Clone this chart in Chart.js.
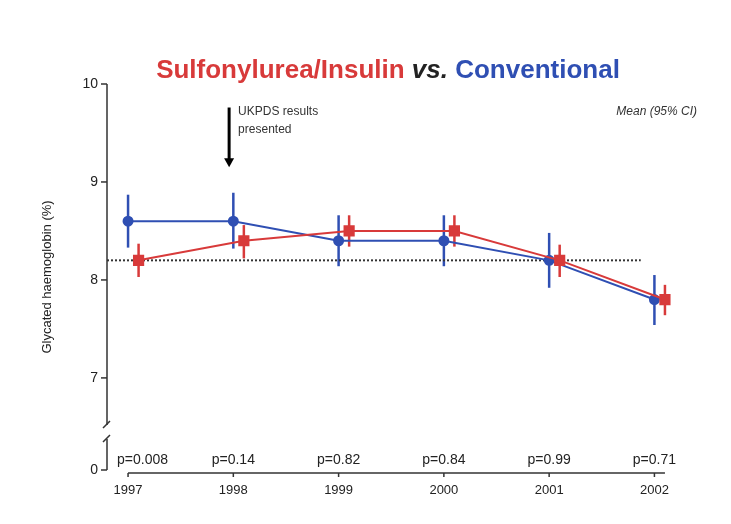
<!DOCTYPE html>
<html>
<head>
<meta charset="utf-8">
<script src="https://cdn.jsdelivr.net/npm/chart.js@4.4.1/dist/chart.umd.min.js"></script>
<style>
  html,body{margin:0;padding:0;background:#fff;}
  #wrap{width:731px;height:524px;position:relative;}
</style>
</head>
<body>
<div id="wrap"><canvas id="myChart" width="731" height="524"></canvas></div>
<script>
// data
var years = [1997, 1998, 1999, 2000, 2001, 2002];
var suMean = [8.2, 8.4, 8.5, 8.5, 8.2, 7.8];
var suLow = [8.03, 8.22, 8.34, 8.34, 8.03, 7.64];
var suHigh = [8.37, 8.56, 8.66, 8.66, 8.36, 7.95];
var convMean = [8.6, 8.6, 8.4, 8.4, 8.2, 7.8];
var convLow = [8.33, 8.32, 8.14, 8.14, 7.92, 7.54];
var convHigh = [8.87, 8.89, 8.66, 8.66, 8.48, 8.05];
var pValues = ["p=0.008", "p=0.14", "p=0.82", "p=0.84", "p=0.99", "p=0.71"];
var yTicks = [7, 8, 9, 10];
var refLevel = 8.2;

var RED = "#d83a3a";
var BLUE = "#2f4fb3";
var FONT = "'Liberation Sans', Arial, sans-serif";
var yMin = 6.06;      // bottom of axis shows "0" after the break
var redShift = 0.1;   // red series drawn a little to the right

function pts(means, shift){
    return years.map(function(yr, i){ return {x: yr + shift, y: means[i]}; });
}

var extras = {
    id: "extras",
    beforeDatasetsDraw: function(chart){
        var ctx = chart.ctx, xs = chart.scales.x, ys = chart.scales.y;
        // error bars
        [[convLow, convHigh, 0, BLUE], [suLow, suHigh, redShift, RED]].forEach(function(s){
            ctx.save();
            ctx.strokeStyle = s[3];
            ctx.lineWidth = 2.5;
            years.forEach(function(yr, i){
                var px = xs.getPixelForValue(yr + s[2]);
                ctx.beginPath();
                ctx.moveTo(px, ys.getPixelForValue(s[0][i]));
                ctx.lineTo(px, ys.getPixelForValue(s[1][i]));
                ctx.stroke();
            });
            ctx.restore();
        });
    },
    afterDraw: function(chart){
        var ctx = chart.ctx, xs = chart.scales.x, ys = chart.scales.y;
        var left = chart.chartArea.left, bottom = chart.chartArea.bottom;
        ctx.save();
        ctx.strokeStyle = "#333";
        ctx.lineWidth = 1.5;
        // y axis with break
        var brk1 = ys.getPixelForValue(6.52), brk2 = brk1 + 14;
        ctx.beginPath();
        ctx.moveTo(left, ys.getPixelForValue(10));
        ctx.lineTo(left, brk1);
        ctx.moveTo(left, brk2);
        ctx.lineTo(left, bottom);
        ctx.stroke();
        ctx.beginPath();
        ctx.moveTo(left - 4, brk1 + 3); ctx.lineTo(left + 3, brk1 - 4);
        ctx.moveTo(left - 4, brk2 + 3); ctx.lineTo(left + 3, brk2 - 4);
        ctx.stroke();
        // y tick marks
        [yMin].concat(yTicks).forEach(function(v){
            var py = ys.getPixelForValue(v);
            ctx.beginPath();
            ctx.moveTo(left - 6, py); ctx.lineTo(left, py);
            ctx.stroke();
        });
        // x axis
        var axY = bottom + 3;
        ctx.beginPath();
        ctx.moveTo(xs.getPixelForValue(years[0]), axY);
        ctx.lineTo(xs.getPixelForValue(years[years.length - 1] + redShift), axY);
        ctx.stroke();
        years.forEach(function(yr){
            var px = xs.getPixelForValue(yr);
            ctx.beginPath();
            ctx.moveTo(px, axY); ctx.lineTo(px, axY + 4);
            ctx.stroke();
        });
        // p values
        ctx.fillStyle = "#222";
        ctx.font = "14px " + FONT;
        ctx.textAlign = "center";
        ctx.textBaseline = "alphabetic";
        years.forEach(function(yr, i){
            var px = xs.getPixelForValue(yr);
            var w = ctx.measureText(pValues[i]).width;
            px = Math.max(px, left + 10 + w / 2);
            ctx.fillText(pValues[i], px, bottom - 6);
        });
        // arrow for UKPDS
        var ax = xs.getPixelForValue(1997.96);
        var aTop = ys.getPixelForValue(9.76), aBot = ys.getPixelForValue(9.15);
        ctx.strokeStyle = "#000";
        ctx.fillStyle = "#000";
        ctx.lineWidth = 3;
        ctx.beginPath();
        ctx.moveTo(ax, aTop); ctx.lineTo(ax, aBot - 8);
        ctx.stroke();
        ctx.beginPath();
        ctx.moveTo(ax - 5, aBot - 9); ctx.lineTo(ax + 5, aBot - 9); ctx.lineTo(ax, aBot);
        ctx.closePath(); ctx.fill();
        ctx.fillStyle = "#333";
        ctx.font = "12px " + FONT;
        ctx.textAlign = "left";
        ctx.fillText("UKPDS results", ax + 9, ys.getPixelForValue(9.68));
        ctx.fillText("presented", ax + 9, ys.getPixelForValue(9.5));
        ctx.font = "italic 12px " + FONT;
        ctx.textAlign = "right";
        ctx.fillText("Mean (95% CI)", 697, ys.getPixelForValue(9.68));
        // title in two colours
        var parts = [
            ["Sulfonylurea/Insulin ", "bold 26px " + FONT, RED],
            ["vs.", "italic bold 26px " + FONT, "#222"],
            [" Conventional", "bold 26px " + FONT, BLUE]
        ];
        var total = 0;
        parts.forEach(function(p){ ctx.font = p[1]; p.push(ctx.measureText(p[0]).width); total += p[3]; });
        var tx = 388 - total / 2;
        ctx.textAlign = "left";
        parts.forEach(function(p){
            ctx.font = p[1]; ctx.fillStyle = p[2];
            ctx.fillText(p[0], tx, 78);
            tx += p[3];
        });
        ctx.restore();
    }
};

var ctx = document.getElementById("myChart").getContext("2d");
var chart = new Chart(ctx, {
    type: "scatter",
    data: {
        datasets: [{
            label: "Sulfonylurea/Insulin",
            data: pts(suMean, redShift),
            showLine: true,
            clip: false,
            borderColor: RED,
            backgroundColor: RED,
            borderWidth: 2,
            pointStyle: "rect",
            pointRadius: 6.5,
            pointHoverRadius: 6.5,
            order: 1
        }, {
            label: "Conventional",
            data: pts(convMean, 0),
            showLine: true,
            clip: false,
            borderColor: BLUE,
            backgroundColor: BLUE,
            borderWidth: 2,
            pointStyle: "circle",
            pointRadius: 4.5,
            pointHoverRadius: 4.5,
            order: 2
        }, {
            label: "reference",
            data: [{x: 1996.8, y: refLevel}, {x: 2001.87, y: refLevel}],
            showLine: true,
            borderColor: "#333",
            borderWidth: 2,
            borderDash: [2, 2],
            pointRadius: 0,
            order: 3
        }]
    },
    options: {
        responsive: false,
        animation: false,
        layout: {padding: {left: 34, top: 84, right: 65, bottom: 0}},
        plugins: {legend: {display: false}, tooltip: {enabled: false}},
        scales: {
            x: {
                type: "linear",
                min: 1996.8,
                max: 2002.11,
                afterBuildTicks: function(s){ s.ticks = years.map(function(v){ return {value: v}; }); },
                afterFit: function(s){ s.height = 54; },
                grid: {display: false, drawTicks: false},
                border: {display: false},
                ticks: {
                    padding: 13,
                    color: "#222",
                    font: {family: FONT, size: 13},
                    callback: function(v){ return String(v); }
                }
            },
            y: {
                min: yMin,
                max: 10,
                afterBuildTicks: function(s){ s.ticks = [yMin].concat(yTicks).map(function(v){ return {value: v}; }); },
                afterFit: function(s){ s.width = 73; },
                grid: {display: false, drawTicks: false},
                border: {display: false},
                ticks: {
                    padding: 9,
                    color: "#222",
                    font: {family: FONT, size: 14},
                    callback: function(v){ return v < 6.5 ? "0" : String(v); }
                },
                title: {
                    display: true,
                    text: "Glycated haemoglobin (%)",
                    color: "#222",
                    font: {family: FONT, size: 13},
                    padding: {top: 6, bottom: 0}
                }
            }
        }
    },
    plugins: [extras]
});
</script>
</body>
</html>
